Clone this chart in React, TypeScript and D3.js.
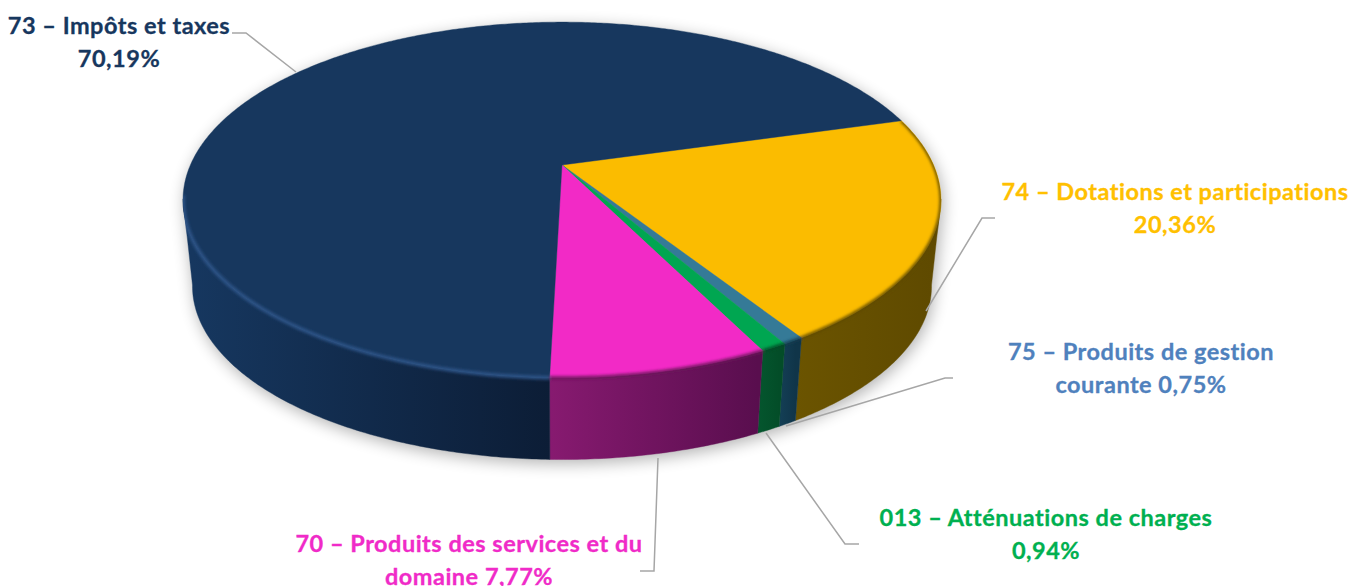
import React from "react";
import * as d3 from "d3";

const categories = ["74 – Dotations et participations", "75 – Produits de gestion courante", "013 – Atténuations de charges", "70 – Produits des services et du domaine", "73 – Impôts et taxes"];
const values = [20.36, 0.75, 0.94, 7.77, 70.19];
const topColors = ["#fbbc00", "#357a97", "#00a651", "#f22ac6", "#17375e"];
const wallLeft = ["#6b5400", "#143f56", "#04562e", "#871a70", "#0c1d36"];
const wallRight = ["#5f4a00", "#103549", "#034d28", "#590e4e", "#16375f"];
const rimColors = ["#5f4a00", "#123a4f", "#044a26", "#6a1259", "#2d5589"];

const labelLines = [
  { lines: ["73 – Impôts et taxes", "70,19%"], x: 119, y: 33.5, color: "#17375e" },
  { lines: ["74 – Dotations et participations", "20,36%"], x: 1175, y: 200, color: "#ffc000" },
  { lines: ["75 – Produits de gestion", "courante 0,75%"], x: 1141, y: 360, color: "#4f81bd" },
  { lines: ["013 – Atténuations de charges", "0,94%"], x: 1046, y: 526, color: "#00b050" },
  { lines: ["70 – Produits des services et du", "domaine 7,77%"], x: 469, y: 552, color: "#f02bc8" },
];
const leaders: [number, number][][] = [
  [[232, 33], [246, 33], [296, 72]],
  [[995, 218], [982, 218], [926, 311]],
  [[953, 378], [945, 378], [786, 426]],
  [[766, 433], [845, 544], [859, 544]],
  [[658, 458], [654, 571], [640, 571]],
];

const START_DEG = 74.2;
const CX = 562, CY = 165, R = 371.6, S = 171, K = 0.1966;
const WALL_F = 0.975, WALL_DY = 87;
const NEAR_FROM = (101 * Math.PI) / 180, NEAR_TO = (259 * Math.PI) / 180;
const TAU = 2 * Math.PI;

type Pt = [number, number];
const project = (a: number, wall = false): Pt => {
  const u = Math.sin(a), v = -Math.cos(a), w = 1 - K * v;
  const f = wall ? WALL_F : 1;
  return [CX + (f * R * u) / w, CY + (wall ? WALL_DY : 0) + (f * S * v) / w];
};
const arcPts = (a0: number, a1: number, wall = false): Pt[] => {
  const n = Math.max(4, Math.ceil(Math.abs(a1 - a0) / 0.01));
  return d3.range(n + 1).map((i) => project(a0 + ((a1 - a0) * i) / n, wall));
};
const line = d3.line<Pt>().x((d) => d[0]).y((d) => d[1]);

const pie = d3.pie<number>().sort(null).value((d) => d)
  .startAngle((START_DEG * Math.PI) / 180)
  .endAngle((START_DEG * Math.PI) / 180 + TAU);
const slices = pie(values);

const hull = d3.polygonHull([...arcPts(0, TAU), ...arcPts(0, TAU, true)]) as Pt[];
const hullPath = line(hull)! + "Z";

const nearRange = (a0: number, a1: number): [number, number] => [Math.max(a0, NEAR_FROM), Math.min(a1, NEAR_TO)];

export default function App() {
  return (
    <svg width={1353} height={586} viewBox="0 0 1353 586" style={{ position: "absolute", left: 0, top: 0, display: "block", background: "#fff" }}>
      <defs>
        <filter id="shadow" x="-10%" y="-20%" width="120%" height="140%"><feGaussianBlur stdDeviation="8" /></filter>
        <filter id="rim" x="-5%" y="-5%" width="110%" height="110%"><feGaussianBlur stdDeviation="1.6" /></filter>
        {slices.map((s, i) => {
          const [a0, a1] = nearRange(s.startAngle, s.endAngle);
          const p0 = project(a0, true), p1 = project(a1, true);
          return (
            <linearGradient key={i} id={`wall${i}`} gradientUnits="userSpaceOnUse" x1={Math.min(p0[0], p1[0])} x2={Math.max(p0[0], p1[0])} y1={0} y2={0}>
              <stop offset="0" stopColor={i === 4 ? wallRight[i] : wallLeft[i]} />
              <stop offset="1" stopColor={i === 4 ? wallLeft[i] : wallRight[i]} />
            </linearGradient>
          );
        })}
        <clipPath id="hullClip"><path d={hullPath} /></clipPath>
      </defs>
      <path d={hullPath} fill="#000" opacity={0.3} filter="url(#shadow)" transform="translate(2,4)" />
      {slices.map((s, i) => {
        const [a0, a1] = nearRange(s.startAngle, s.endAngle);
        return (
          <path key={i} d={line([...arcPts(a0, a1), ...arcPts(a1, a0, true)])! + "Z"} fill={`url(#wall${i})`} stroke={`url(#wall${i})`} strokeWidth={0.4} />
        );
      })}
      {slices.map((s, i) => (
        <path key={i} d={line([[CX, CY], ...arcPts(s.startAngle, s.endAngle)])! + "Z"} fill={topColors[i]} stroke={topColors[i]} strokeWidth={0.4} />
      ))}
      <g clipPath="url(#hullClip)" filter="url(#rim)" fill="none">
        {slices.map((s, i) => {
          const end = i === 4 ? NEAR_TO + 0.02 : s.endAngle;
          return <path key={i} d={line(arcPts(s.startAngle, end))!} stroke={rimColors[i]} strokeWidth={i === 4 ? 3.5 : 3} />;
        })}
      </g>
      {leaders.map((l, i) => (
        <path key={i} d={line(l)!} fill="none" stroke="#a6a6a6" strokeWidth={1.5} />
      ))}
      {labelLines.map((l, i) => (
        <text key={i} textAnchor="middle" fontFamily="Lato, 'Open Sans', sans-serif" fontWeight={700} fontSize={23.5} letterSpacing={0.5} fill={l.color} stroke={l.color} strokeWidth={0.3}>
          {l.lines.map((t, j) => (
            <tspan key={j} x={l.x} y={l.y + j * 33}>{t}</tspan>
          ))}
        </text>
      ))}
    </svg>
  );
}
